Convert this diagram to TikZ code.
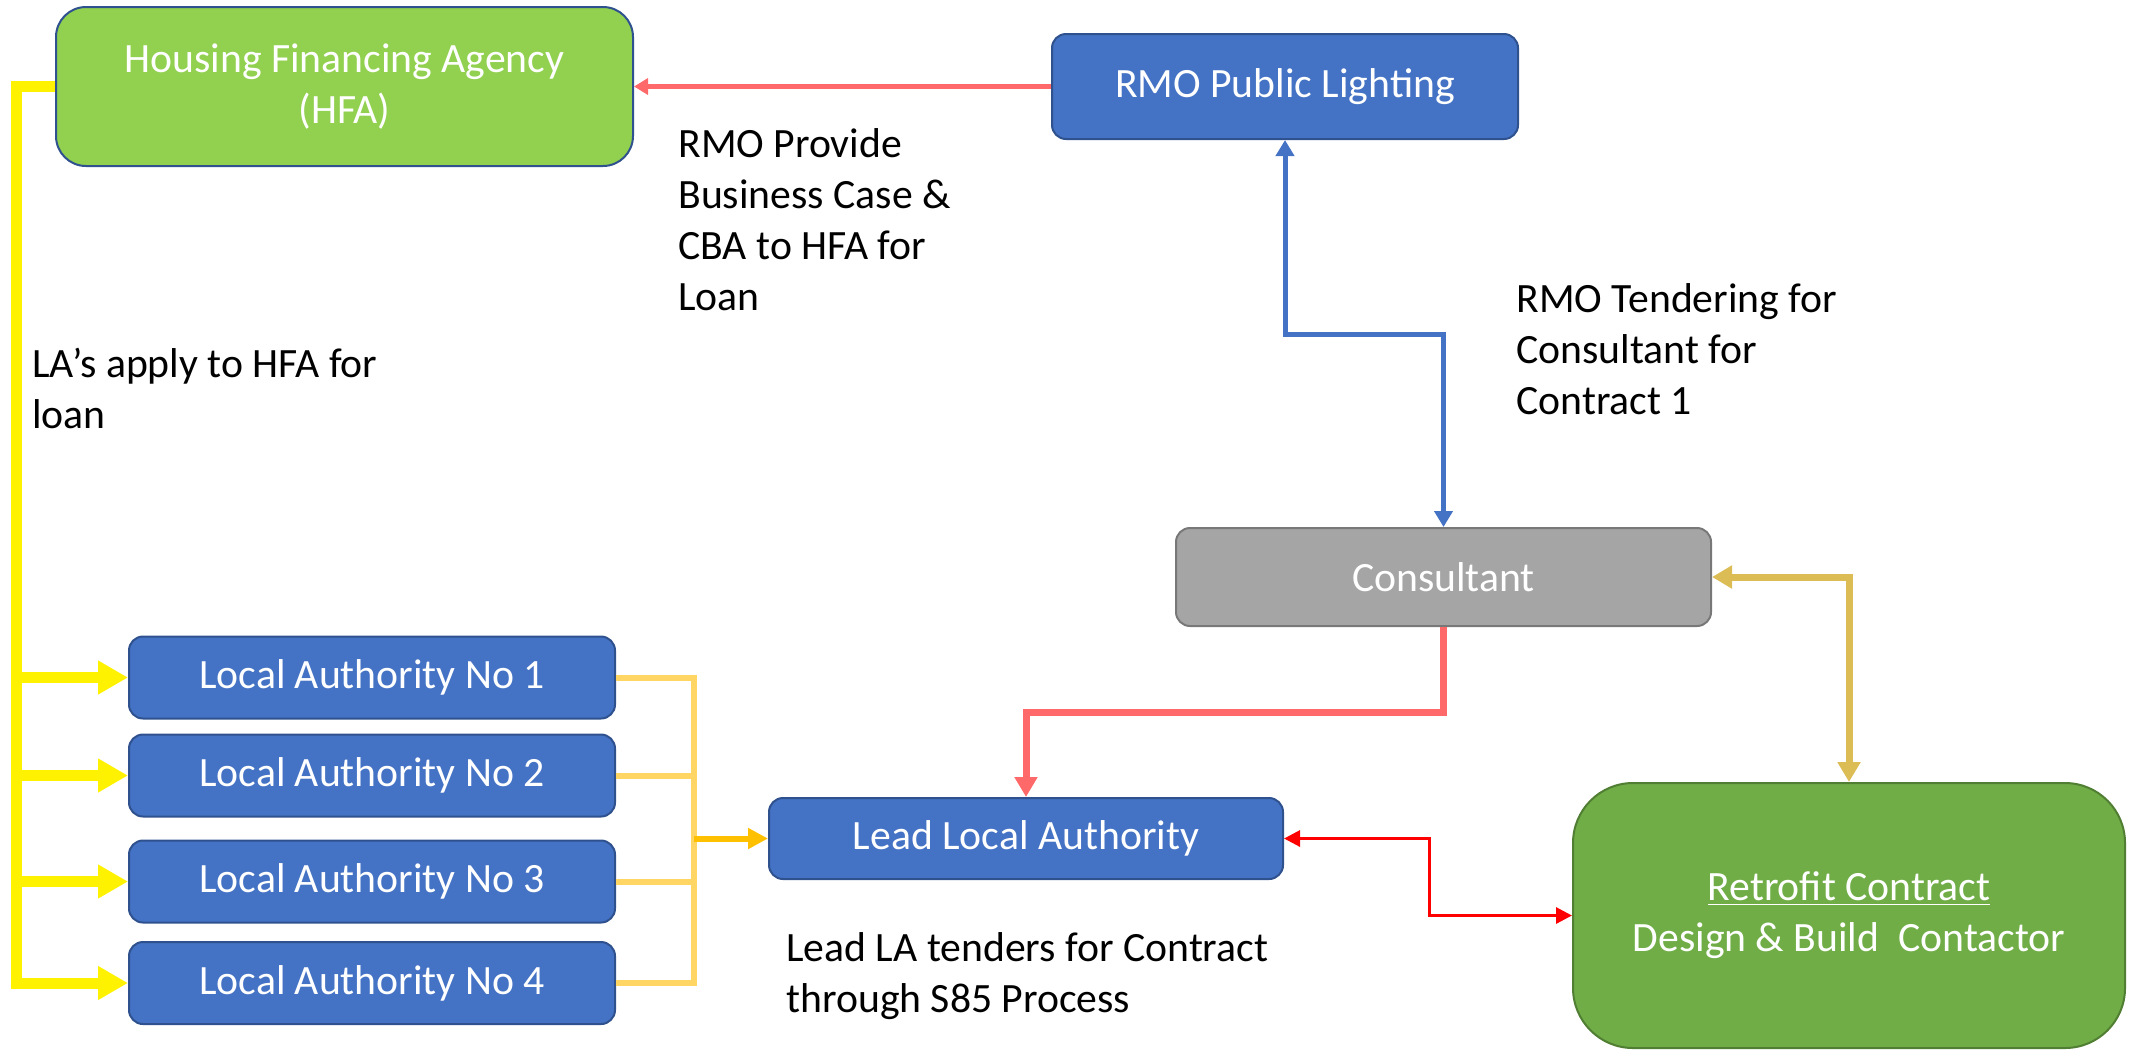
\documentclass[tikz,border=0pt]{standalone}
\usepackage{fontspec}
\setmainfont{Carlito}
\usepackage{xcolor}
\usetikzlibrary{arrows.meta,positioning}
\definecolor{boxblue}{RGB}{68,114,196}
\definecolor{boxedge}{RGB}{47,82,143}
\definecolor{hfagreen}{RGB}{146,208,80}
\definecolor{retrogreen}{RGB}{112,173,71}
\definecolor{retroedge}{RGB}{80,126,50}
\definecolor{consgrey}{RGB}{165,165,165}
\definecolor{consedge}{RGB}{120,120,120}
\definecolor{busorange}{RGB}{255,192,0}
\definecolor{buslight}{RGB}{255,214,100}
\definecolor{redlight}{RGB}{255,105,105}
\definecolor{goldlight}{RGB}{220,188,85}

\begin{document}
\begin{tikzpicture}[x=0.5pt, y=-0.5pt,
        font={\fontsize{20.85pt}{25.5pt}\selectfont},
        box/.style={draw=boxedge, line width=1pt, fill=boxblue, text=white, rounded corners=7pt, inner sep=0pt, align=center},
        note/.style={anchor=north west, inner sep=0pt, align=left}]
    \useasboundingbox (0,0) rectangle (2134,1056);

    \node[box, fill=hfagreen, rounded corners=15pt, minimum width=288.5pt, minimum height=79.5pt] (hfa) at (344.5,86.5) {Housing Financing Agency\\(HFA)};
    \node[box, minimum width=233pt, minimum height=52.5pt] (rmo) at (1285,86.5) {RMO Public Lighting};
    \node[box, draw=consedge, fill=consgrey, minimum width=267.5pt, minimum height=49pt] (cons) at (1443.5,577) {Consultant};
    \node[box, minimum width=257pt, minimum height=40.5pt] (lead) at (1026,838.5) {Lead Local Authority};
    \node[box, draw=retroedge, fill=retrogreen, rounded corners=30pt, minimum width=276pt, minimum height=132.5pt] (retro) at (1849,915.5) {\underline{Retrofit Contract}\\Design \& Build\ \ Contactor};
    \foreach \i/\y in {1/677.5, 2/775.5, 3/881.5, 4/983}
        \node[box, minimum width=243pt, minimum height=41pt] (la\i) at (372,\y) {Local Authority No \i};

    \node[note] (provide) at (678,128) {RMO Provide\\Business Case \&\\CBA to HFA for\\Loan};
    \node[note] (tender) at (1516,283) {RMO Tendering for\\Consultant for\\Contract 1};
    \node[note] (apply) at (32,348) {LA’s apply to HFA for\\loan};
    \node[note] (tenders) at (786,932) {Lead LA tenders for Contract\\through S85 Process};

    % loan request and tendering
    \draw[redlight, line width=2.5pt, -{Triangle[length=7pt,width=8pt]}] (rmo) -- (hfa);
    \draw[boxblue, line width=2.5pt, {Triangle[length=8pt,width=9pt]}-{Triangle[length=8pt,width=9pt]}] (rmo.south) -- ++(0,194) -| (cons.north);
    \draw[redlight, line width=3.5pt, -{Triangle[length=10pt,width=11pt]}] (cons.south) -- ++(0,85) -| (lead.north);
    \draw[goldlight, line width=3.5pt, {Triangle[length=10pt,width=11pt]}-{Triangle[length=10pt,width=11pt]}] (cons.east) -| (retro.north);
    \draw[red, line width=1.5pt, {Triangle[length=8pt,width=8pt]}-{Triangle[length=8pt,width=8pt]}] (lead.east) -- ++(145,0) |- (retro.west);

    % HFA to the local authorities
    \coordinate (ytop) at (16,86.5);
    \draw[yellow, line width=5.5pt, -{Triangle[length=15pt,width=16pt]}] (hfa.west) -- (ytop) |- (la4.west);
    \foreach \i in {1,2,3}
        \draw[yellow, line width=5.5pt, -{Triangle[length=15pt,width=16pt]}] (ytop |- la\i.west) -- (la\i.west);

    % local authorities to the lead
    \coordinate (obus) at (694,838.5);
    \draw[buslight, line width=3pt] (la1.east) -| (obus |- la4.east) -- (la4.east);
    \foreach \i in {2,3}
        \draw[buslight, line width=3pt] (la\i.east) -- (obus |- la\i.east);
    \draw[busorange, line width=3pt, -{Triangle[length=10pt,width=10pt]}] (obus) -- (lead.west);
\end{tikzpicture}
\end{document}
